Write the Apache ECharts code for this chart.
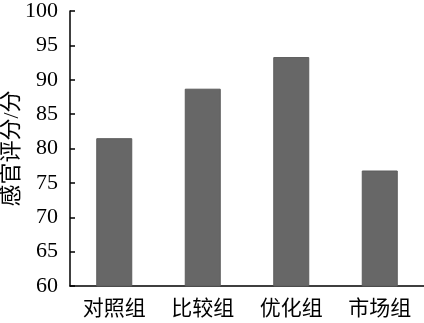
<!DOCTYPE html>
<html><head><meta charset="utf-8">
<script src="https://cdn.jsdelivr.net/npm/echarts@6/dist/echarts.min.js"></script>
<style>html,body{margin:0;padding:0;background:#fff}#c{width:424px;height:323px}</style>
</head><body><div id="c"></div>
<script>
var categories = ['对照组', '比较组', '优化组', '市场组'];
var scores = [81.5, 88.7, 93.3, 76.8];
var yTicks = {min: 60, max: 100, interval: 5};
var yName = '感官评分/分';
var font = "'Liberation Serif', 'Times New Roman', 'Noto Sans CJK SC', serif";
var chart = echarts.init(document.getElementById('c'));
chart.setOption({
  animation: false,
  grid: {left: 70, right: 0, top: 11, bottom: 37, containLabel: false, outerBoundsMode: 'none'},
  xAxis: {
    type: 'category', data: categories,
    axisLine: {lineStyle: {color: '#000', width: 1.5}},
    axisTick: {show: false},
    axisLabel: {color: '#000', fontSize: 21, fontFamily: font, margin: 13}
  },
  yAxis: {
    type: 'value', min: yTicks.min, max: yTicks.max, interval: yTicks.interval,
    name: yName, nameLocation: 'middle', nameGap: 47, nameRotate: 90, nameMoveOverlap: false,
    nameTextStyle: {color: '#000', fontSize: 22, fontFamily: font},
    axisLine: {show: true, lineStyle: {color: '#000', width: 1.5}},
    axisTick: {show: true, inside: true, length: 5, lineStyle: {color: '#000', width: 1.5}},
    axisLabel: {color: '#000', fontSize: 22, fontFamily: font, margin: 12},
    splitLine: {show: false}
  },
  series: [{
    type: 'bar', data: scores, barWidth: 36,
    itemStyle: {color: '#676767', borderColor: '#5c5c5c', borderWidth: 1}
  }]
});
</script></body></html>
